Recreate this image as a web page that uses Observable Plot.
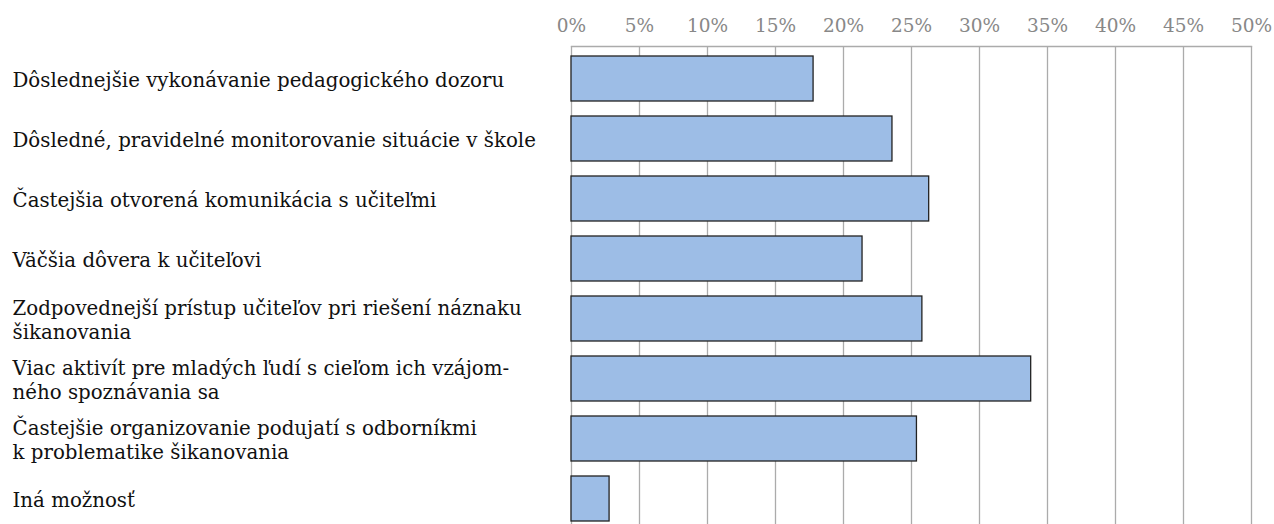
<!DOCTYPE html>
<html>
<head>
<meta charset="utf-8">
<script src="https://cdn.jsdelivr.net/npm/d3@7"></script>
<script src="https://cdn.jsdelivr.net/npm/@observablehq/plot@0.6"></script>
<style>
  html, body { margin: 0; padding: 0; background: #fff; overflow: hidden; }
  svg { display: block; overflow: visible; }
  svg text { font-family: "DejaVu Serif" !important; }
</style>
</head>
<body>
<div id="chart"></div>
<script>
const categories = [
  "Dôslednejšie vykonávanie pedagogického dozoru",
  "Dôsledné, pravidelné monitorovanie situácie v škole",
  "Častejšia otvorená komunikácia s učiteľmi",
  "Väčšia dôvera k učiteľovi",
  "Zodpovednejší prístup učiteľov pri riešení náznaku\nšikanovania",
  "Viac aktivít pre mladých ľudí s cieľom ich vzájom-\nného spoznávania sa",
  "Častejšie organizovanie podujatí s odborníkmi\nk problematike šikanovania",
  "Iná možnosť"
];
const values = [17.8, 23.6, 26.3, 21.4, 25.8, 33.8, 25.4, 2.8];
const xTicks = [0, 5, 10, 15, 20, 25, 30, 35, 40, 45, 50];

const data = categories.map((c, i) => ({category: c, value: values[i]}));

const chart = Plot.plot({
  width: 1274,
  height: 524,
  marginLeft: 571,
  marginRight: 23,
  marginTop: 46,
  marginBottom: 0,
  style: {fontSize: "18px", background: "#fff"},
  x: {domain: [0, 50], axis: null},
  y: {domain: categories, range: [46, 530], paddingInner: 0.256, paddingOuter: 0.128, axis: null},
  marks: [
    Plot.ruleX(xTicks, {x: d => d, stroke: "#ababab", strokeWidth: 1.3}),
    Plot.frame({anchor: "top", stroke: "#ababab", strokeWidth: 1.3}),
    Plot.text(xTicks, {x: d => d, frameAnchor: "top", dy: -20, text: d => d + "%", fill: "#888", fontSize: 18.5, lineAnchor: "middle"}),
    Plot.barX(data, {y: "category", x: "value", fill: "#9dbde6", stroke: "#222", strokeWidth: 1.3}),
    Plot.text(data, {y: "category", frameAnchor: "left", dx: -559, text: "category", textAnchor: "start", fill: "#111", fontSize: 19.8, lineHeight: 1.21, lineAnchor: "middle"})
  ]
});
document.getElementById("chart").appendChild(chart);
</script>
</body>
</html>
